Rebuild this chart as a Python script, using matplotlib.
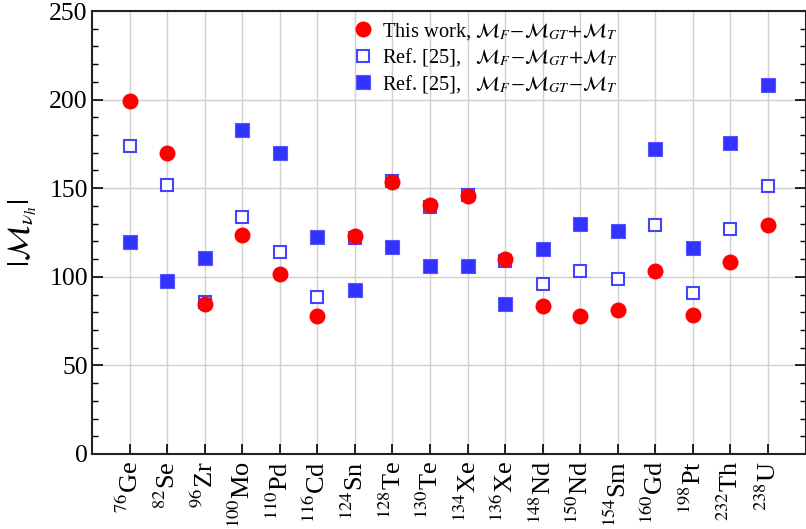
import matplotlib
matplotlib.use("Agg")
import matplotlib.pyplot as plt
from matplotlib.ticker import MultipleLocator

plt.rcParams['font.family'] = ['Liberation Serif', 'DejaVu Serif']
plt.rcParams['mathtext.fontset'] = 'stix'

masses = ['76', '82', '96', '100', '110', '116', '124', '128', '130', '134',
          '136', '148', '150', '154', '160', '198', '232', '238']
symbols = ['Ge', 'Se', 'Zr', 'Mo', 'Pd', 'Cd', 'Sn', 'Te', 'Te', 'Xe',
           'Xe', 'Nd', 'Nd', 'Sm', 'Gd', 'Pt', 'Th', 'U']
this_work = [199, 170, 84.5, 123.5, 101.5, 77.8, 123, 153.3, 140.5, 145.4,
             109.8, 83.5, 77.9, 81.3, 103.3, 78.3, 108.4, 129]
ref_plus = [174, 152, 86, 134, 113.8, 88.4, 122, 154, 139.5, 146,
            109, 96.1, 103.5, 98.6, 129.4, 90.7, 126.8, 151]
ref_minus = [119.8, 97.4, 110.4, 182.7, 169.7, 122.2, 92.4, 117, 106.3, 106.3,
             84.5, 115.5, 130, 126, 172.3, 116.4, 175.7, 208.4]

labels = [r'$^{%s}$%s' % (m, s) for m, s in zip(masses, symbols)]
x = list(range(len(labels)))

fig = plt.figure(figsize=(8.06, 5.29), dpi=100)
ax = fig.add_axes([92/806, 1-454/529, 1-92/806-0.0005, (454-11)/529])

blue = '#3333ff'
ax.plot(x, ref_plus, linestyle='none', marker='s', markersize=8.2,
        markerfacecolor='white', markeredgecolor='#4444ff', markeredgewidth=1.5,
        label=r'Ref. [25],   $\mathcal{M}_F\!-\!\mathcal{M}_{GT}\!+\!\mathcal{M}_T$', zorder=3)
ax.plot(x, ref_minus, linestyle='none', marker='s', markersize=9.5,
        markerfacecolor=blue, markeredgecolor='#5555ff', markeredgewidth=0.8,
        label=r'Ref. [25],   $\mathcal{M}_F\!-\!\mathcal{M}_{GT}\!-\!\mathcal{M}_T$', zorder=3)
ax.plot(x, this_work, linestyle='none', marker='o', markersize=11.5,
        markerfacecolor='#ff0000', markeredgecolor='#ff0000', markeredgewidth=0,
        label=r'This work, $\mathcal{M}_F\!-\!\mathcal{M}_{GT}\!+\!\mathcal{M}_T$', zorder=4)

ax.set_xlim(-1, 18)
ax.set_ylim(0, 250)
ax.set_xticks(x)
ax.set_xticklabels(labels, rotation=90, fontsize=19)
ax.yaxis.set_major_locator(MultipleLocator(50))
ax.yaxis.set_minor_locator(MultipleLocator(10))
ax.tick_params(axis='y', which='major', direction='in', length=8, width=1.2,
               labelsize=18.5, pad=3, left=True, right=True)
ax.tick_params(axis='y', which='minor', direction='in', length=4, width=1.0,
               left=True, right=True)
ax.tick_params(axis='x', which='major', direction='in', length=7, width=1.2,
               pad=5, top=False)
ax.grid(True, which='major', color='#d0d0d0', linewidth=1.0, zorder=0)
ax.set_axisbelow(True)
for sp in ax.spines.values():
    sp.set_linewidth(1.5)
    sp.set_color('#222222')

ax.set_ylabel(r'$|\mathcal{M}_{\nu_h}|$', fontsize=22, labelpad=7)

h, l = ax.get_legend_handles_labels()
order = [2, 0, 1]
leg = ax.legend([h[i] for i in order], [l[i] for i in order],
                loc='upper left', bbox_to_anchor=(353/806, 1-21/529),
                bbox_transform=fig.transFigure, frameon=False, fontsize=14.7,
                handlelength=1.0, handletextpad=0.4, borderpad=0, borderaxespad=0,
                labelspacing=0.22)

fig.savefig('out.png', dpi=100)
